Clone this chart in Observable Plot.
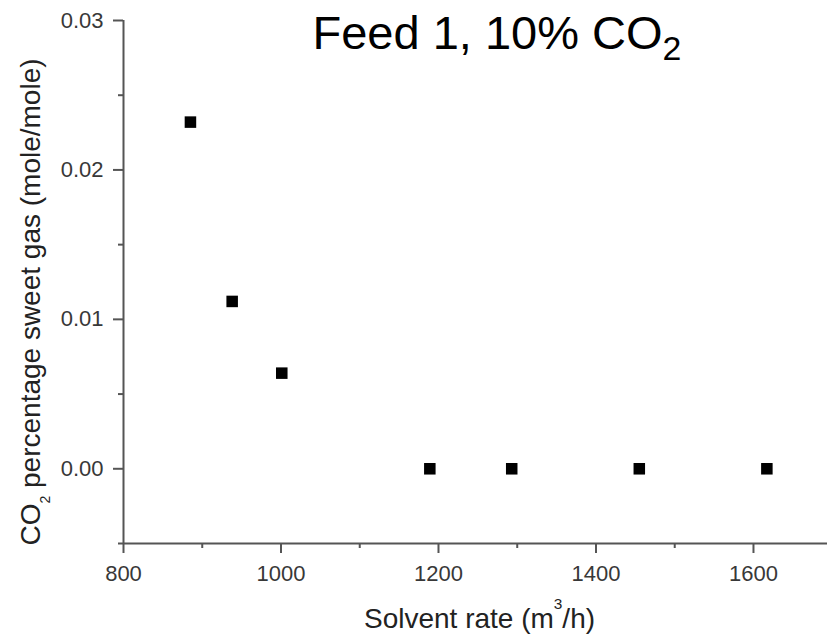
<!DOCTYPE html>
<html>
<head>
<meta charset="utf-8">
<script src="https://cdn.jsdelivr.net/npm/d3@7"></script>
<script src="https://cdn.jsdelivr.net/npm/@observablehq/plot@0.6"></script>
<style>
  html, body { margin: 0; padding: 0; background: #fff; }
  #chart { width: 827px; height: 634px; }
</style>
</head>
<body>
<div id="chart"></div>
<script>
// ---- data ----
const solventRate = [885, 938, 1001, 1189, 1293, 1455, 1617];
const co2Sweet = [0.0232, 0.0112, 0.0064, 0, 0, 0, 0];
const xMajorTicks = [800, 1000, 1200, 1400, 1600];
const xMinorTicks = [900, 1100, 1300, 1500];
const yMajorTicks = [0, 0.01, 0.02, 0.03];
const yMinorTicks = [-0.005, 0.005, 0.015, 0.025];
const titleText = "Feed 1, 10% CO₂";
const xLabelText = "Solvent rate (m³/h)";
const yLabelText = "CO₂ percentage sweet gas (mole/mole)";

const points = solventRate.map((x, i) => ({x, y: co2Sweet[i]}));

const axisColor = "#555";
const tickText = "#383838";
const font = "'Liberation Sans', Arial, Helvetica, sans-serif";

const svg = Plot.plot({
  width: 827,
  height: 634,
  marginLeft: 123,
  marginRight: 0,
  marginTop: 20,
  marginBottom: 91,
  style: {fontFamily: font, background: "#fff", overflow: "visible"},
  x: {domain: [800, 1694]},
  y: {domain: [-0.005, 0.03]},
  marks: [
    Plot.axisX({ticks: xMajorTicks, tickSize: 10, tickPadding: 12, fontSize: 22,
      tickFormat: d => String(d), label: null, stroke: axisColor, strokeWidth: 2, fill: tickText}),
    Plot.axisX({ticks: xMinorTicks, tickSize: 5, label: null, stroke: axisColor, strokeWidth: 2,
      fill: "none", tickFormat: () => ""}),
    Plot.axisY({ticks: yMajorTicks, tickSize: 10, tickPadding: 10, fontSize: 22,
      tickFormat: d3.format(".2f"), label: null, stroke: axisColor, strokeWidth: 2, fill: tickText}),
    Plot.axisY({ticks: yMinorTicks, tickSize: 5, label: null, stroke: axisColor, strokeWidth: 2,
      fill: "none", tickFormat: () => ""}),
    Plot.ruleX([800], {stroke: axisColor, strokeWidth: 2}),
    Plot.ruleY([-0.005], {stroke: axisColor, strokeWidth: 2}),
    Plot.dot(points, {x: "x", y: "y", symbol: "square", r: 6.5, fill: "#000", stroke: "none"}),
    Plot.text([titleText], {text: d => d, frameAnchor: "top-left", dx: 189, dy: 28,
      textAnchor: "start", lineAnchor: "bottom", fontSize: 47, fill: "#000", className: "ttl"}),
    Plot.text([xLabelText], {text: d => d, frameAnchor: "bottom", dx: 4, dy: 84,
      textAnchor: "middle", lineAnchor: "bottom", fontSize: 28, fill: "#222", className: "xlab"}),
    Plot.text([yLabelText], {text: d => d, frameAnchor: "left", dx: -84, dy: 20, rotate: -90,
      textAnchor: "middle", lineAnchor: "bottom", fontSize: 28, fill: "#222", className: "ylab"})
  ]
});

// sub/superscripts as tspans
const svgNS = "http://www.w3.org/2000/svg";
function rich(el, fs, size, shift) {
  const txt = el.textContent;
  el.textContent = "";
  const parts = txt.split(/([₂³])/);
  let pending = 0;
  for (const p of parts) {
    if (!p) continue;
    const ts = document.createElementNS(svgNS, "tspan");
    if (p === "₂" || p === "³") {
      ts.textContent = p === "₂" ? "2" : "3";
      ts.setAttribute("font-size", fs * size);
      const s = fs * shift;
      ts.setAttribute("dy", s + pending);
      pending = -s;
    } else {
      ts.textContent = p;
      if (pending) ts.setAttribute("dy", pending);
      pending = 0;
    }
    el.appendChild(ts);
  }
}
d3.select(svg).selectAll("text").each(function() {
  const t = this.textContent;
  if (t === titleText) rich(this, 47, 0.72, 0.25);
  else if (t === xLabelText) rich(this, 28, 0.55, -0.66);
  else if (t === yLabelText) rich(this, 28, 0.5, 0.38);
});

document.getElementById("chart").appendChild(svg);
</script>
</body>
</html>
